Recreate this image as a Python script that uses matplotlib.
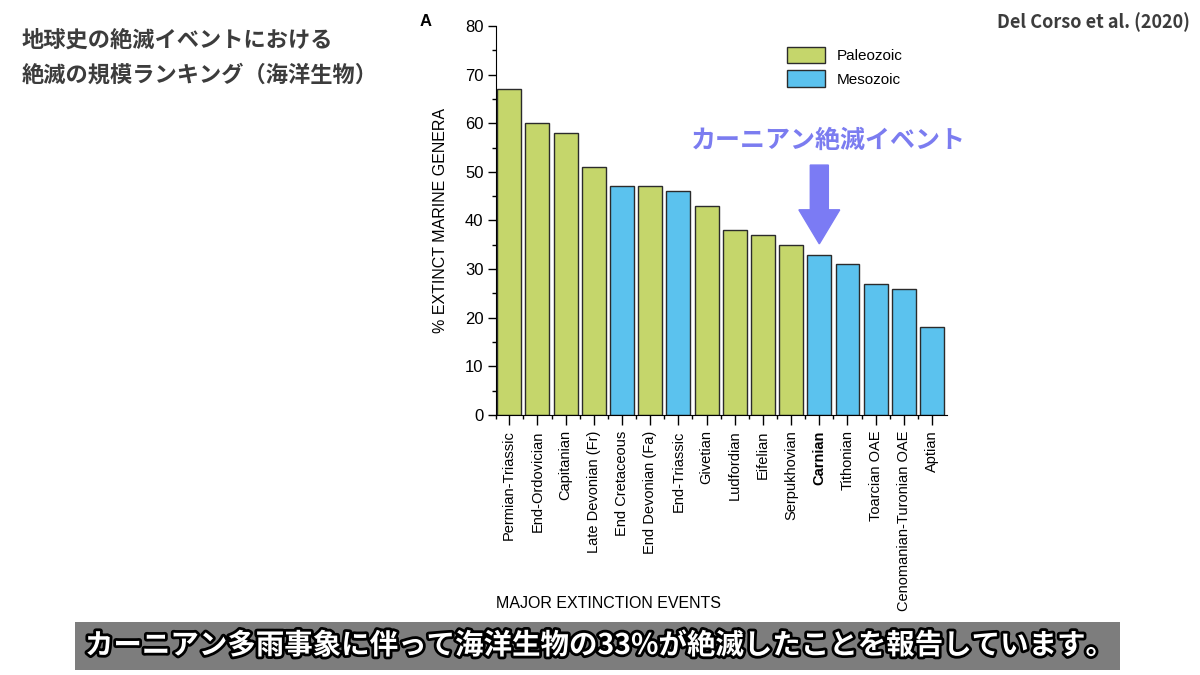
import matplotlib
matplotlib.use("Agg")
import matplotlib.pyplot as plt
import matplotlib.patheffects as pe
from matplotlib.patches import Patch, Rectangle
from matplotlib.ticker import MultipleLocator, FixedLocator

events = ["Permian-Triassic", "End-Ordovician", "Capitanian", "Late Devonian (Fr)",
          "End Cretaceous", "End Devonian (Fa)", "End-Triassic", "Givetian",
          "Ludfordian", "Eifelian", "Serpukhovian", "Carnian", "Tithonian",
          "Toarcian OAE", "Cenomanian-Turonian OAE", "Aptian"]
extinct_pct = [67, 60, 58, 51, 47, 47, 46, 43, 38, 37, 35, 33, 31, 27, 26, 18]
era = ["Paleozoic", "Paleozoic", "Paleozoic", "Paleozoic", "Mesozoic", "Paleozoic",
       "Mesozoic", "Paleozoic", "Paleozoic", "Paleozoic", "Paleozoic", "Mesozoic",
       "Mesozoic", "Mesozoic", "Mesozoic", "Mesozoic"]
era_colors = {"Paleozoic": "#c5d66b", "Mesozoic": "#5bc2ee"}
highlight = "Carnian"

plt.rcParams['font.family'] = ['Liberation Sans', 'DejaVu Sans']
jp = ['Noto Sans CJK JP', 'DejaVu Sans']

fig = plt.figure(figsize=(12, 6.75), dpi=100)
fig.patch.set_facecolor("white")
ax = fig.add_axes([496/1200, 1-415/675, 451/1200, (415-26)/675])

x = list(range(len(events)))
ax.bar(x, extinct_pct, width=0.85, color=[era_colors[e] for e in era],
       edgecolor="#2b2b2b", linewidth=1.0, zorder=2)
ax.set_xlim(-0.47, len(events) - 0.47)
ax.set_ylim(0, 80)
ax.yaxis.set_major_locator(MultipleLocator(10))
ax.yaxis.set_minor_locator(MultipleLocator(5))
ax.xaxis.set_major_locator(FixedLocator(x))
ax.xaxis.set_minor_locator(FixedLocator([i + 0.5 for i in x[:-1]] + [-0.47]))
ax.set_xticklabels(events, rotation=90, fontsize=10.5)
for lbl in ax.get_xticklabels():
    if lbl.get_text() == highlight:
        lbl.set_fontweight("bold")
ax.tick_params(axis='y', which='major', length=6, width=1, labelsize=12, pad=3)
ax.tick_params(axis='y', which='minor', length=3, width=1)
ax.tick_params(axis='x', which='major', length=7, width=1, pad=4)
ax.tick_params(axis='x', which='minor', length=3, width=1)
ax.spines['top'].set_visible(False)
ax.spines['right'].set_visible(False)
ax.set_ylabel("% EXTINCT MARINE GENERA", fontsize=11.5, labelpad=12)

handles = [Patch(facecolor=era_colors[k], edgecolor="#2b2b2b", label=k)
           for k in ["Paleozoic", "Mesozoic"]]
fig.legend(handles=handles, loc="upper left", bbox_to_anchor=(773/1200, 1-33/675),
           frameon=False, fontsize=11, handlelength=2.5, handleheight=1.3,
           labelspacing=0.45, handletextpad=0.8)

ci = events.index(highlight)
ax.arrow(ci, 51.4, 0, -16.2, width=0.64, head_width=1.45, head_length=7,
         length_includes_head=True, color="#7b7bf4", zorder=3)
fig.text(828/1200, 1-141/675, "カーニアン絶滅イベント", family=jp, fontweight="bold",
         fontsize=18, color="#7b7cf0", ha="center", va="center")

fig.text(22/1200, 1-40/675, "地球史の絶滅イベントにおける", family=jp, fontweight="bold",
         fontsize=16, color="#3c3c3c", ha="left", va="center")
fig.text(22/1200, 1-75/675, "絶滅の規模ランキング（海洋生物）", family=jp, fontweight="bold",
         fontsize=16, color="#3c3c3c", ha="left", va="center")
fig.text(1190/1200, 1-22/675, "Del Corso et al. (2020)", family=jp,
         fontweight="bold", fontsize=13, color="#3c3c3c", ha="right", va="center")
fig.text(420/1200, 1-22/675, "A", fontweight="bold", fontsize=12, ha="left", va="center")
fig.text(496/1200, 1-603/675, "MAJOR EXTINCTION EVENTS", fontsize=11.5, ha="left", va="center")

fig.patches.append(Rectangle((75/1200, 1-670/675), (1120-75)/1200, 48/675,
                             transform=fig.transFigure, facecolor="#7d7d7d",
                             edgecolor="none", zorder=5))
t = fig.text(600/1200, 1-646/675, "カーニアン多雨事象に伴って海洋生物の33%が絶滅したことを報告しています。",
             family=jp, fontweight="bold", fontsize=20.5, color="white",
             ha="center", va="center", zorder=6)
t.set_path_effects([pe.withStroke(linewidth=4, foreground="black")])

fig.savefig("out.png", dpi=100)
